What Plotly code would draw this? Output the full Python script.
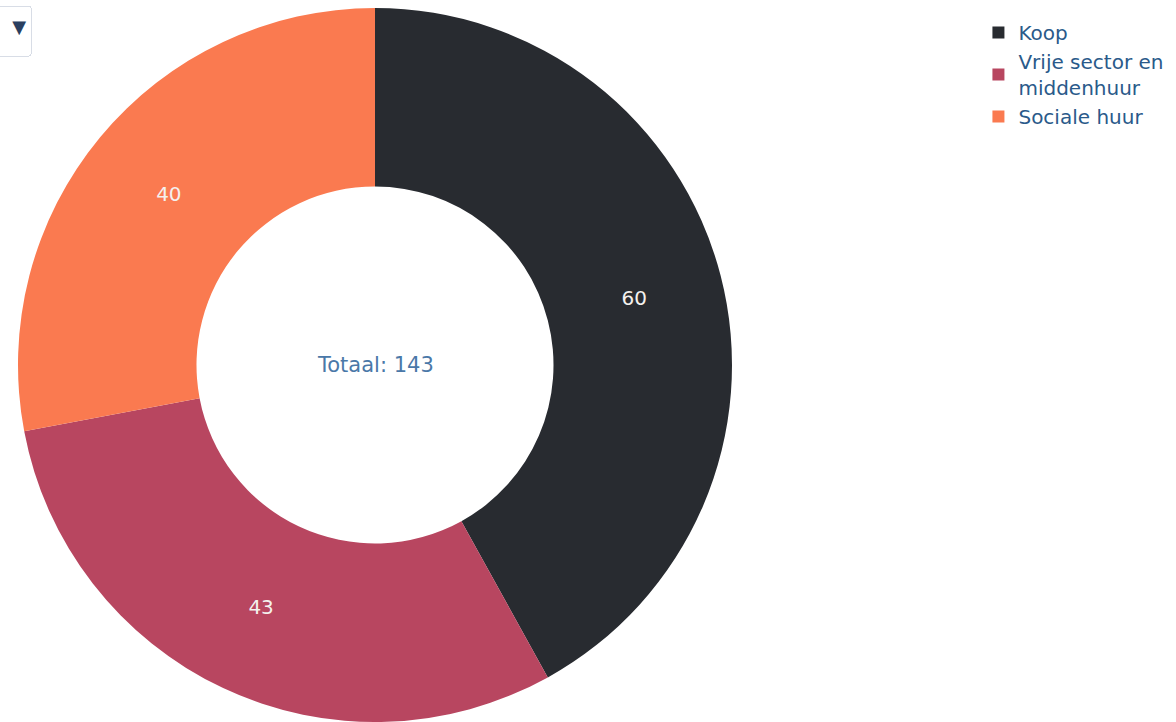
import plotly.graph_objects as go

labels = ["Koop", "Vrije sector en<br>middenhuur", "Sociale huur"]
values = [60, 43, 40]
colors = ["#282b30", "#b84660", "#fa7a50"]
total_label = "Totaal: 143"

fig = go.Figure()
fig.add_trace(go.Pie(
    labels=labels,
    values=values,
    hole=0.5,
    sort=False,
    direction="clockwise",
    rotation=0,
    marker=dict(colors=colors, line=dict(width=0)),
    textinfo="value",
    textposition="inside",
    insidetextfont=dict(color="#f4f1ee", size=20, family="DejaVu Sans"),
))

fig.update_layout(
    width=1176, height=722,
    margin=dict(l=17, r=443, t=8, b=0, autoexpand=False),
    paper_bgcolor="white",
    font=dict(family="DejaVu Sans", color="#2a3f5f"),
    legend=dict(
        xref="container", yref="container",
        x=0.832, y=0.982, xanchor="left", yanchor="top",
        font=dict(size=20, color="#2a5a8a"),
        itemwidth=30,
    ),
    annotations=[dict(
        text=total_label, x=0.5, y=0.5, xref="paper", yref="paper",
        showarrow=False, font=dict(size=21, color="#4a78a8"),
    )],
    updatemenus=[dict(
        type="dropdown", direction="down",
        x=-0.046, y=1.004, xanchor="left", yanchor="top",
        showactive=True, active=0,
        bgcolor="white", bordercolor="#d8dde6",
        font=dict(size=18, color="#2a3f5f"),
        pad=dict(l=0, r=0, t=0, b=0),
        buttons=[dict(label="<br>", method="skip", args=[None])],
    )],
)

fig.write_html("out.html")
